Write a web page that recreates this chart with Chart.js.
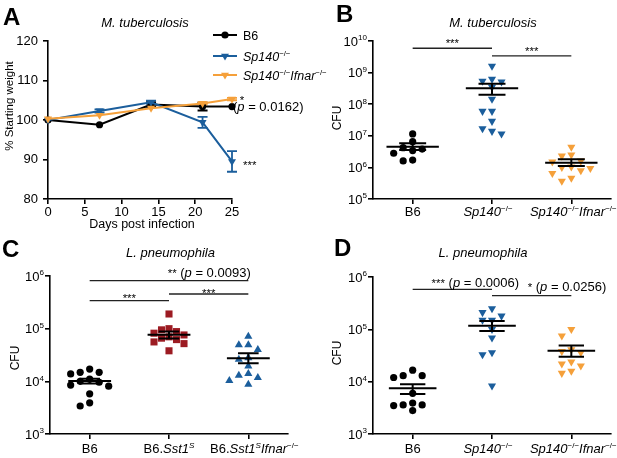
<!DOCTYPE html>
<html>
<head>
<meta charset="utf-8">
<script src="https://cdn.jsdelivr.net/npm/chart.js@4.4.1/dist/chart.umd.min.js"></script>
<style>
html,body{margin:0;padding:0;background:#fff;width:617px;height:458px;overflow:hidden;}
#wrap{position:relative;width:617px;height:458px;background:#fff;}
canvas{position:absolute;}
</style>
</head>
<body>
<div id="wrap">
<canvas id="cB" width="307" height="230" style="left:310px;top:0px;"></canvas>
<canvas id="cC" width="310" height="228" style="left:0px;top:230px;"></canvas>
<canvas id="cD" width="307" height="228" style="left:310px;top:230px;"></canvas>
<canvas id="cA" width="335" height="240" style="left:0px;top:0px;"></canvas>
</div>
<script>
// ---------------- DATA ----------------
// Panel A: weight curves
const daysA = [0, 7, 14, 21, 25];
const wtB6 = [100.0, 98.8, 103.9, 103.4, 103.4];
const wtB6Sem = [0, 0, 0.6, 1.0, 0];
const wtSp140 = [100.0, 102.3, 104.5, 99.4, 89.5];
const wtSp140Sem = [0, 0.4, 0.4, 1.4, 2.6];
const wtDko = [100.3, 101.2, 103.0, 104.2, 105.3];
const wtDkoSem = [0, 0, 0, 0.3, 0.3];
const seriesA = ['B6', '<i>Sp140</i><sup>−/−</sup>', '<i>Sp140</i><sup>−/−</sup><i>Ifnar</i><sup>−/−</sup>'];
const ticksAx = [0, 5, 10, 15, 20, 25];
const ticksAy = [80, 90, 100, 110, 120];

// Panel B: M. tuberculosis CFU
const groupsB = ['B6', '<i>Sp140</i><sup>−/−</sup>', '<i>Sp140</i><sup>−/−</sup><i>Ifnar</i><sup>−/−</sup>'];
const cfuB_B6 = [1.15e7, 6.5e6, 4.2e6, 3.8e6, 3.4e6, 2.8e6, 1.7e6, 1.6e6];
const cfuB_Sp140 = [1.6e9, 6.2e8, 5.4e8, 5.1e8, 3.5e8, 1.45e8, 6.0e7, 6.0e7, 2.9e7, 1.7e7, 1.4e7, 1.15e7];
const cfuB_Dko = [4.4e6, 2.5e6, 2.3e6, 1.6e6, 1.5e6, 1.05e6, 1.0e6, 9.3e5, 7.9e5, 6.5e5, 4.6e5, 3.7e5];
const meanB = [4.5e6, 3.2e8, 1.4e6];
const semLoB = [3.55e6, 2.0e8, 1.1e6];
const semHiB = [5.8e6, 4.4e8, 1.8e6];
const ticksB = [1e5, 1e6, 1e7, 1e8, 1e9, 1e10];

// Panel C: L. pneumophila CFU (Sst1)
const groupsC = ['B6', 'B6.<i>Sst1</i><isup>S</isup>', 'B6.<i>Sst1</i><isup>S</isup><i>Ifnar</i><sup>−/−</sup>'];
const cfuC_B6 = [1.71e4, 1.48e4, 1.48e4, 1.38e4, 1.1e4, 1.0e4, 9.6e3, 8.5e3, 8.1e3, 5.8e3, 3.9e3, 3.4e3];
const cfuC_Sst1 = [1.9e5, 1.0e5, 9.5e4, 8.8e4, 8.2e4, 7.6e4, 7.0e4, 6.6e4, 6.2e4, 5.6e4, 5.2e4, 3.8e4];
const cfuC_Dko = [7.1e4, 4.9e4, 4.9e4, 4.0e4, 2.8e4, 2.6e4, 1.95e4, 1.4e4, 1.3e4, 1.17e4, 1.03e4, 8.7e3];
const meanC = [1.01e4, 7.7e4, 2.74e4];
const semLoC = [9.1e3, 6.5e4, 2.2e4];
const semHiC = [1.12e4, 8.8e4, 3.4e4];
const ticksC = [1e3, 1e4, 1e5, 1e6];

// Panel D: L. pneumophila CFU (Sp140)
const groupsD = ['B6', '<i>Sp140</i><sup>−/−</sup>', '<i>Sp140</i><sup>−/−</sup><i>Ifnar</i><sup>−/−</sup>'];
const cfuD_B6 = [1.66e4, 1.3e4, 1.3e4, 1.2e4, 6.0e3, 3.9e3, 3.6e3, 3.6e3, 3.5e3, 2.8e3];
const cfuD_Sp140 = [2.5e5, 2.1e5, 1.8e5, 1.5e5, 1.5e5, 1.0e5, 6.9e4, 3.6e4, 3.3e4, 8.3e3];
const cfuD_Dko = [1.0e5, 7.5e4, 4.1e4, 3.8e4, 3.6e4, 2.4e4, 2.2e4, 2.0e4, 1.6e4, 1.45e4];
const meanD = [7.5e3, 1.17e5, 3.9e4];
const semLoD = [5.8e3, 9.3e4, 3.0e4];
const semHiD = [8.9e3, 1.45e5, 4.9e4];
const ticksD = [1e3, 1e4, 1e5, 1e6];

// significance annotations (bar height in data units)
const sigB = [
  {from: 0, to: 1, at: 5.9e9, text: '<sm>***</sm>'},
  {from: 1, to: 2, at: 3.4e9, text: '<sm>***</sm>'}
];
const sigC = [
  {from: 0, to: 2, at: 8.15e5, text: '<sm>**</sm> (<i>p</i> = 0.0093)'},
  {from: 0, to: 1, at: 3.4e5, text: '<sm>***</sm>'},
  {from: 1, to: 2, at: 4.55e5, text: '<sm>***</sm>'}
];
const sigD = [
  {from: 0, to: 1, at: 5.82e5, text: '<sm>***</sm> (<i>p</i> = 0.0006)'},
  {from: 1, to: 2, at: 4.4e5, text: '<sm>*</sm> (<i>p</i> = 0.0256)'}
];

// ---------------- STYLE ----------------
const FONT = '"Liberation Sans", Arial, Helvetica, sans-serif';
Chart.defaults.font.family = FONT;
Chart.defaults.color = '#000';
const BLUE = '#1b5e9c', ORANGE = '#f5a03a', RED = '#9c1b22', BLACK = '#000000';

function parseRich(s) {
  const out = []; const re = /<(i|sup|isup|sm)>(.*?)<\/\1>|([^<]+)/g; let m;
  while ((m = re.exec(s))) {
    if (m[3] !== undefined) out.push({t: m[3]});
    else out.push({t: m[2], it: m[1] === 'i' || m[1] === 'isup', sup: m[1] === 'sup' || m[1] === 'isup', sm: m[1] === 'sm'});
  }
  return out;
}
function richFont(p, size) {
  const sz = p.sup ? size * 0.62 : (p.sm ? size * 0.88 : size);
  return (p.it ? 'italic ' : '') + sz + 'px ' + FONT;
}
function drawRich(ctx, s, x, y, size, align, color) {
  const parts = parseRich(s);
  ctx.save(); ctx.textBaseline = 'alphabetic'; ctx.textAlign = 'left'; ctx.fillStyle = color || '#000';
  let w = 0;
  parts.forEach(p => { ctx.font = richFont(p, size); p.w = ctx.measureText(p.t).width; w += p.w; });
  let cx = align === 'center' ? x - w / 2 : (align === 'right' ? x - w : x);
  parts.forEach(p => { ctx.font = richFont(p, size); ctx.fillText(p.t, cx, p.sup ? y - size * 0.4 : y); cx += p.w; });
  ctx.restore();
  return w;
}
function drawRotated(ctx, s, cx, cy, size) {
  ctx.save(); ctx.translate(cx, cy); ctx.rotate(-Math.PI / 2);
  drawRich(ctx, s, 0, size * 0.35, size, 'center');
  ctx.restore();
}
function drawLetter(ctx, t, x, y) {
  ctx.save(); ctx.font = 'bold 24px ' + FONT; ctx.fillStyle = '#000'; ctx.textBaseline = 'alphabetic';
  ctx.fillText(t, x, y); ctx.restore();
}
function axisStyle() {
  return {
    border: {display: true, color: '#000', width: 1.6},
    grid: {display: true, drawOnChartArea: false, drawTicks: true, tickLength: 5,
           color: '#000', tickColor: '#000', lineWidth: 1.6, tickWidth: 1.6}
  };
}

// ---------------- PANEL A ----------------
function lineSet(label, ys, sem, color, style, r, order) {
  return {
    label, sem, order,
    data: daysA.map((d, i) => ({x: d, y: ys[i]})),
    borderColor: color, backgroundColor: color, borderWidth: 2,
    pointStyle: style, pointRadius: r, pointHoverRadius: r,
    pointRotation: style === 'triangle' ? 180 : 0,
    pointBackgroundColor: color, pointBorderWidth: 0,
    tension: 0, clip: false
  };
}
const pluginA = {
  id: 'panelA',
  beforeDatasetsDraw(chart) {
    const ctx = chart.ctx, xs = chart.scales.x, ys = chart.scales.y;
    chart.data.datasets.forEach(ds => {
      ctx.save(); ctx.strokeStyle = ds.borderColor; ctx.lineWidth = 1.8;
      ds.data.forEach((p, i) => {
        const s = ds.sem[i]; if (!s) return;
        const x = xs.getPixelForValue(p.x), y1 = ys.getPixelForValue(p.y - s), y2 = ys.getPixelForValue(p.y + s);
        ctx.beginPath();
        ctx.moveTo(x, y1); ctx.lineTo(x, y2);
        ctx.moveTo(x - 5, y1); ctx.lineTo(x + 5, y1);
        ctx.moveTo(x - 5, y2); ctx.lineTo(x + 5, y2);
        ctx.stroke();
      });
      ctx.restore();
    });
  },
  afterDraw(chart) {
    const ctx = chart.ctx, xs = chart.scales.x, ys = chart.scales.y, a = chart.chartArea;
    drawLetter(ctx, 'A', 3, 25);
    drawRich(ctx, '<i>M. tuberculosis</i>', 145, 27, 13, 'center');
    drawRotated(ctx, '% Starting weight', 9, 106, 11.5);
    drawRich(ctx, 'Days post infection', (a.left + a.right) / 2 + 2, 228, 12.5, 'center');
    // legend
    const rows = [35, 56, 75];
    chart.data.datasets.forEach((ds, i) => {
      const y = rows[i];
      ctx.save(); ctx.strokeStyle = ds.borderColor; ctx.lineWidth = 2;
      ctx.beginPath(); ctx.moveTo(213, y); ctx.lineTo(237, y); ctx.stroke();
      ctx.fillStyle = ds.borderColor;
      if (Chart.helpers && Chart.helpers.drawPoint) {
        Chart.helpers.drawPoint(ctx, {pointStyle: ds.pointStyle, radius: ds.pointRadius, rotation: ds.pointRotation, borderWidth: 0}, 225, y);
      }
      ctx.restore();
      drawRich(ctx, seriesA[i], 243, y + 4.5, 12.5, 'left');
    });
    // annotations at the last time point
    const last = daysA.length - 1;
    const px = xs.getPixelForValue(daysA[last]);
    const pB6 = ys.getPixelForValue(wtB6[last]);
    drawRich(ctx, '(<i>p</i> = 0.0162)', px + 1, pB6 + 4.5, 13, 'left');
    drawRich(ctx, '<sm>*</sm>', px + 10, pB6 - 2.5, 13, 'center');
    const pSp = ys.getPixelForValue(wtSp140[last]);
    drawRich(ctx, '<sm>***</sm>', px + 11, pSp + 8, 13, 'left');
  }
};
new Chart(document.getElementById('cA'), {
  type: 'line',
  data: {datasets: [
    lineSet('B6', wtB6, wtB6Sem, BLACK, 'circle', 3.6, 2),
    lineSet('Sp140-/-', wtSp140, wtSp140Sem, BLUE, 'triangle', 4.6, 1),
    lineSet('Sp140-/-Ifnar-/-', wtDko, wtDkoSem, ORANGE, 'triangle', 4.6, 0)
  ]},
  options: {
    responsive: false, animation: false, events: [],
    layout: {padding: {left: 0, top: 41, right: 335 - 232, bottom: 0}},
    plugins: {legend: {display: false}, tooltip: {enabled: false}},
    scales: {
      x: Object.assign(axisStyle(), {
        type: 'linear', min: 0, max: 25,
        afterBuildTicks: s => { s.ticks = ticksAx.map(v => ({value: v})); },
        ticks: {font: {size: 13}, padding: 1, maxRotation: 0, color: '#000'},
        afterFit: s => { s.height = 240 - 199; }
      }),
      y: Object.assign(axisStyle(), {
        type: 'linear', min: 80, max: 120,
        afterBuildTicks: s => { s.ticks = ticksAy.map(v => ({value: v})); },
        ticks: {font: {size: 13}, padding: 5, color: '#000'},
        afterFit: s => { s.width = 48; }
      })
    }
  },
  plugins: [pluginA]
});

// ---------------- DOT PLOTS ----------------
function applySwarm(chart) {
  const xs = chart.scales.x, ys = chart.scales.y;
  const unit = xs.getPixelForValue(1) - xs.getPixelForValue(0);
  chart.data.datasets.forEach(ds => {
    const pts = ds.values.map(v => ({v, py: ys.getPixelForValue(v)})).sort((a, b) => a.py - b.py);
    const placed = [];
    pts.forEach(p => {
      for (let k = 0; k < 60; k++) {
        const m = k === 0 ? 0 : (k % 2 ? -Math.ceil(k / 2) : Math.ceil(k / 2));
        const px = m * ds.swarmStep;
        if (placed.every(q => Math.hypot(q.px - px, q.py - p.py) >= ds.swarmDiam)) { p.px = px; break; }
      }
      placed.push(p);
    });
    ds.data = pts.map(p => ({x: ds.category + p.px / unit, y: p.v}));
  });
  chart.update('none');
}

function dotPlot(id, W, H, area, cfg) {
  const datasets = cfg.sets.map((s, i) => ({
    label: 'g' + i, values: s.values, category: i,
    swarmStep: s.step || 9.5, swarmDiam: s.diam || 7.5,
    data: s.values.map(v => ({x: i, y: v})),
    pointStyle: s.style, pointRadius: s.r, pointHoverRadius: s.r, pointRotation: s.rot || 0,
    backgroundColor: s.color, pointBackgroundColor: s.color, borderColor: s.color,
    pointBorderWidth: 0, showLine: false, clip: false
  }));
  const plugin = {
    id: 'dp' + id,
    afterDatasetsDraw(chart) {
      const ctx = chart.ctx, x = chart.scales.x, y = chart.scales.y;
      ctx.save(); ctx.strokeStyle = '#000'; ctx.lineWidth = 2;
      cfg.mean.forEach((m, i) => {
        const cx = x.getPixelForValue(i);
        const xl = x.getPixelForValue(i - cfg.half), xr = x.getPixelForValue(i + cfg.half);
        const cl = x.getPixelForValue(i - cfg.cap), cr = x.getPixelForValue(i + cfg.cap);
        const ym = y.getPixelForValue(m), yl = y.getPixelForValue(cfg.lo[i]), yh = y.getPixelForValue(cfg.hi[i]);
        ctx.beginPath();
        ctx.moveTo(xl, ym); ctx.lineTo(xr, ym);
        ctx.moveTo(cx, yl); ctx.lineTo(cx, yh);
        ctx.moveTo(cl, yl); ctx.lineTo(cr, yl);
        ctx.moveTo(cl, yh); ctx.lineTo(cr, yh);
        ctx.stroke();
      });
      ctx.restore();
    },
    afterDraw(chart) {
      const ctx = chart.ctx, x = chart.scales.x, y = chart.scales.y, a = chart.chartArea;
      drawLetter(ctx, cfg.letter.t, cfg.letter.x, cfg.letter.y);
      drawRich(ctx, cfg.title.t, cfg.title.x, cfg.title.y, 13, 'center');
      drawRotated(ctx, 'CFU', cfg.yTitle.x, cfg.yTitle.y, 12);
      // y tick labels (powers of ten)
      cfg.ticks.forEach(v => {
        const py = y.getPixelForValue(v);
        drawRich(ctx, '10<sup>' + Math.round(Math.log10(v)) + '</sup>', a.left - 6, py + 4.6, 13, 'right');
      });
      // x category labels
      cfg.groups.forEach((g, i) => {
        drawRich(ctx, g, x.getPixelForValue(i) + (cfg.labelShift ? cfg.labelShift[i] : 0), cfg.xLabelY, 13, 'center');
      });
      // significance bars
      ctx.save(); ctx.strokeStyle = '#222'; ctx.lineWidth = 1.3;
      cfg.sig.forEach((s, k) => {
        const py = y.getPixelForValue(s.at);
        ctx.beginPath(); ctx.moveTo(x.getPixelForValue(s.from), py); ctx.lineTo(x.getPixelForValue(s.to), py); ctx.stroke();
        const L = cfg.sigLabel[k];
        drawRich(ctx, s.text, x.getPixelForValue(L.pos), py + L.dy, 13, L.align);
      });
      ctx.restore();
    }
  };
  const chart = new Chart(document.getElementById(id), {
    type: 'scatter',
    data: {datasets},
    options: {
      responsive: false, animation: false, events: [],
      layout: {padding: {left: 0, top: area.top, right: W - area.right, bottom: 0}},
      plugins: {legend: {display: false}, tooltip: {enabled: false}},
      scales: {
        x: Object.assign(axisStyle(), {
          type: 'linear', min: -0.5, max: 2.5,
          afterBuildTicks: s => { s.ticks = cfg.groups.map((g, i) => ({value: i})); },
          ticks: {display: false},
          afterFit: s => { s.height = H - area.bottom; }
        }),
        y: Object.assign(axisStyle(), {
          type: 'logarithmic', min: cfg.ticks[0], max: cfg.ticks[cfg.ticks.length - 1],
          afterBuildTicks: s => { s.ticks = cfg.ticks.map(v => ({value: v})); },
          ticks: {display: false},
          afterFit: s => { s.width = area.left; }
        })
      }
    },
    plugins: [plugin]
  });
  applySwarm(chart);
  return chart;
}

dotPlot('cB', 307, 230, {left: 63, right: 301, top: 41, bottom: 199}, {
  groups: groupsB, ticks: ticksB, mean: meanB, lo: semLoB, hi: semHiB, sig: sigB,
  sigLabel: [{pos: 0.5, align: 'center', dy: -1}, {pos: 1.5, align: 'center', dy: -0.5}],
  half: 0.33, cap: 0.17,
  sets: [
    {values: cfuB_B6, color: BLACK, style: 'circle', r: 3.6},
    {values: cfuB_Sp140, color: BLUE, style: 'triangle', r: 4.7, rot: 180},
    {values: cfuB_Dko, color: ORANGE, style: 'triangle', r: 4.7, rot: 180}
  ],
  letter: {t: 'B', x: 26, y: 22}, title: {t: '<i>M. tuberculosis</i>', x: 183, y: 27},
  yTitle: {x: 27, y: 118}, xLabelY: 216, labelShift: [0, -4, 2]
});

dotPlot('cC', 310, 228, {left: 50, right: 288, top: 46, bottom: 204}, {
  groups: groupsC, ticks: ticksC, mean: meanC, lo: semLoC, hi: semHiC, sig: sigC,
  sigLabel: [{pos: 2.03, align: 'right', dy: -4}, {pos: 0.5, align: 'center', dy: 1.5}, {pos: 1.5, align: 'center', dy: 3}],
  half: 0.27, cap: 0.13,
  sets: [
    {values: cfuC_B6, color: BLACK, style: 'circle', r: 3.6},
    {values: cfuC_Sst1, color: RED, style: 'rect', r: 5, step: 7.5, diam: 7},
    {values: cfuC_Dko, color: BLUE, style: 'triangle', r: 4.7, rot: 0}
  ],
  letter: {t: 'C', x: 2, y: 27}, title: {t: '<i>L. pneumophila</i>', x: 170.5, y: 27},
  yTitle: {x: 15, y: 128}, xLabelY: 223, labelShift: [0, 0, 6]
});

dotPlot('cD', 307, 228, {left: 63, right: 301, top: 47, bottom: 204}, {
  groups: groupsD, ticks: ticksD, mean: meanD, lo: semLoD, hi: semHiD, sig: sigD,
  sigLabel: [{pos: 0.79, align: 'center', dy: -2}, {pos: 1.45, align: 'left', dy: -4.7}],
  half: 0.3, cap: 0.16,
  sets: [
    {values: cfuD_B6, color: BLACK, style: 'circle', r: 3.6},
    {values: cfuD_Sp140, color: BLUE, style: 'triangle', r: 4.7, rot: 180},
    {values: cfuD_Dko, color: ORANGE, style: 'triangle', r: 4.7, rot: 180}
  ],
  letter: {t: 'D', x: 24, y: 26}, title: {t: '<i>L. pneumophila</i>', x: 173, y: 27},
  yTitle: {x: 27, y: 123}, xLabelY: 223, labelShift: [0, -4, 2]
});
</script>
</body>
</html>
